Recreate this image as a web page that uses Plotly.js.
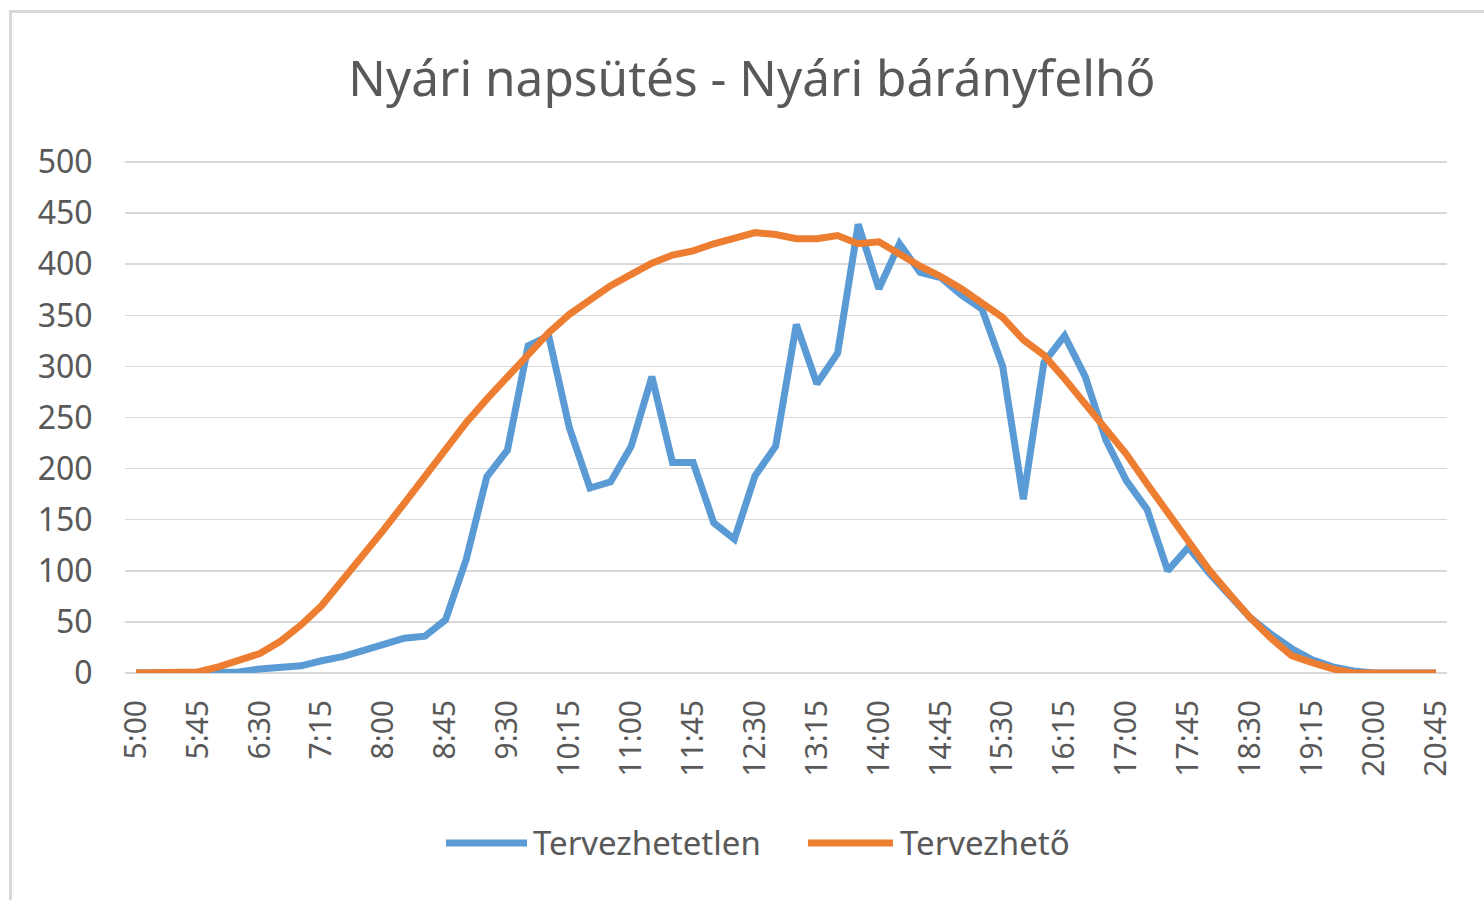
<!DOCTYPE html>
<html>
<head>
<meta charset="utf-8">
<script src="https://cdn.plot.ly/plotly-3.0.1.min.js"></script>
<style>
  html, body { margin: 0; padding: 0; background: #ffffff; overflow: hidden; }
  #wrap { position: relative; width: 1484px; height: 900px; }
  #chart { position: absolute; left: 0; top: 0; width: 1484px; height: 900px; }
  #frame { position: absolute; left: 9px; top: 10px; width: 2000px; height: 2000px;
           border-top: 3px solid #d9d9d9; border-left: 3px solid #d9d9d9; pointer-events: none; }
</style>
</head>
<body>
<div id="wrap">
  <div id="chart"></div>
  <div id="frame"></div>
</div>
<script>
// ---- Data ----
const chartTitle = "Nyári napsütés - Nyári bárányfelhő";

const times = [
  "5:00","5:15","5:30","5:45","6:00","6:15","6:30","6:45",
  "7:00","7:15","7:30","7:45","8:00","8:15","8:30","8:45",
  "9:00","9:15","9:30","9:45","10:00","10:15","10:30","10:45",
  "11:00","11:15","11:30","11:45","12:00","12:15","12:30","12:45",
  "13:00","13:15","13:30","13:45","14:00","14:15","14:30","14:45",
  "15:00","15:15","15:30","15:45","16:00","16:15","16:30","16:45",
  "17:00","17:15","17:30","17:45","18:00","18:15","18:30","18:45",
  "19:00","19:15","19:30","19:45","20:00","20:15","20:30","20:45"
];

const tickLabels = [
  "5:00","5:45","6:30","7:15","8:00","8:45","9:30","10:15","11:00","11:45","12:30",
  "13:15","14:00","14:45","15:30","16:15","17:00","17:45","18:30","19:15","20:00","20:45"
];

const seriesNames = ["Tervezhetetlen", "Tervezhető"];

const tervezhetetlen = [
  0, 0, 0, 0, 0, 1, 4, 5,
  7, 12, 16, 22, 28, 34, 36, 52,
  111, 192, 218, 320, 330, 240, 181, 187,
  222, 290, 206, 206, 147, 131, 193, 222,
  341, 283, 313, 439, 376, 420, 392, 387,
  370, 356, 300, 170, 304, 330, 290, 228,
  188, 160, 100, 123, 98, 75, 54, 38,
  24, 13, 6, 2, 0, 0, 0, 0
];

const tervezheto = [
  0, 0, 0, 1, 6, 13, 19, 31,
  47, 66, 90, 114, 140, 166, 193, 220,
  245, 268, 290, 310, 333, 351, 365, 379,
  390, 401, 409, 413, 420, 425, 431, 429,
  425, 425, 428, 420, 422, 410, 398, 388,
  376, 362, 348, 326, 311, 288, 264, 240,
  214, 185, 157, 128, 101, 77, 54, 34,
  17, 10, 4, 0, 0, 0, 0, 0
];

const yTicks = [0, 50, 100, 150, 200, 250, 300, 350, 400, 450, 500];

// ---- Styles ----
const colors = ["#5B9BD5", "#ED7D31"];
const textColor = "#595959";
const fontFamily = "'Noto Sans', 'Open Sans', sans-serif";

const traces = [
  {
    x: times, y: tervezhetetlen, name: seriesNames[0], type: "scatter", mode: "lines",
    line: { color: colors[0], width: 7, shape: "linear" }, showlegend: false
  },
  {
    x: times, y: tervezheto, name: seriesNames[1], type: "scatter", mode: "lines",
    line: { color: colors[1], width: 7, shape: "linear" }, showlegend: false
  }
];

// Custom legend (long line samples like the original)
const legendY = -0.332;
const legendItems = [
  { x0: 0.2428, x1: 0.3041, tx: 0.3070 },
  { x0: 0.5166, x1: 0.5809, tx: 0.5850 }
];
const shapes = legendItems.map((it, i) => ({
  type: "line", xref: "paper", yref: "paper",
  x0: it.x0, x1: it.x1, y0: legendY, y1: legendY,
  line: { color: colors[i], width: 7 }
}));
const annotations = legendItems.map((it, i) => ({
  xref: "paper", yref: "paper", x: it.tx, y: legendY,
  xanchor: "left", yanchor: "middle", showarrow: false,
  text: seriesNames[i], font: { family: fontFamily, size: 33, color: textColor }
}));

const layout = {
  width: 1484, height: 900,
  paper_bgcolor: "#ffffff", plot_bgcolor: "#ffffff",
  margin: { l: 125, r: 37, t: 161, b: 227, pad: 0 },
  font: { family: fontFamily, color: textColor },
  title: {
    text: chartTitle,
    font: { family: fontFamily, size: 49.5, color: textColor },
    xref: "container", yref: "container", x: 0.5067, y: 0.913,
    xanchor: "center", yanchor: "middle"
  },
  showlegend: false,
  xaxis: {
    type: "category",
    range: [-0.532, 63.532],
    tickmode: "array",
    tickvals: tickLabels,
    ticktext: tickLabels,
    tickangle: -90,
    ticks: "outside", ticklen: 14, tickcolor: "rgba(0,0,0,0)",
    tickfont: { family: fontFamily, size: 30, color: textColor },
    showgrid: false, zeroline: false, showline: false, fixedrange: true
  },
  yaxis: {
    range: [0, 501],
    tickmode: "array", tickvals: yTicks,
    ticks: "outside", ticklen: 25, tickcolor: "rgba(0,0,0,0)",
    tickfont: { family: fontFamily, size: 32, color: textColor },
    showgrid: true, gridcolor: "#d9d9d9", gridwidth: 1.5,
    zeroline: true, zerolinecolor: "#d9d9d9", zerolinewidth: 1.5,
    showline: false, fixedrange: true
  },
  shapes: shapes,
  annotations: annotations
};

Plotly.newPlot("chart", traces, layout, { staticPlot: true, displayModeBar: false });
</script>
</body>
</html>
